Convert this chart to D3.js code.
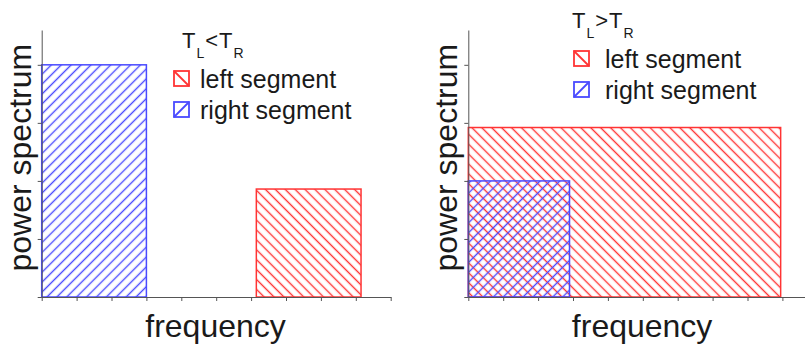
<!DOCTYPE html>
<html><head><meta charset="utf-8">
<script src="https://cdn.jsdelivr.net/npm/d3@7"></script>
<style>body{margin:0;background:#fff}svg{display:block}text{font-family:"Liberation Sans",Arial,sans-serif;fill:#1a1a1a}</style>
</head><body>
<script>
// ---- data ----
const xTicks = [0,1,2,3,4,5,6,7,8,9,10];
const yTicks = [0,1,2,3,4];
// panel 1: T_L < T_R
const p1Series = ["right segment","left segment"];
const p1Start  = [0, 6.15];
const p1End    = [3, 9.15];
const p1Value  = [4.0, 1.86];
// panel 2: T_L > T_R
const p2Series = ["left segment","right segment"];
const p2Start  = [0, 0];
const p2End    = [8.95, 2.9];
const p2Value  = [2.92, 2.0];
const legendLabels = ["left segment","right segment"];
const titles = [["T","L","<","T","R"],["T","L",">","T","R"]];

const W=805,H=344;
const red="#ff3434", blue="#4a4aff", axisCol="#555";
const svg=d3.select("body").append("svg").attr("width",W).attr("height",H);
const defs=svg.append("defs");
function hatch(id,color,angle){
  const p=defs.append("pattern").attr("id",id).attr("patternUnits","userSpaceOnUse")
    .attr("width",7).attr("height",7).attr("patternTransform",`rotate(${angle})`);
  p.append("line").attr("x1",3.5).attr("y1",0).attr("x2",3.5).attr("y2",7)
    .attr("stroke",color).attr("stroke-width",1.4);
}
hatch("hRed",red,-45);   // "\" lines
hatch("hBlue",blue,45);  // "/" lines
const colorOf={"left segment":red,"right segment":blue};
const patOf={"left segment":"url(#hRed)","right segment":"url(#hBlue)"};

const x=d3.scaleLinear().domain([0,10]).range([0,349]);
const y=d3.scaleLinear().domain([0,4.6]).range([267,0]);

function panel(ox, series, s, e, v, title, legX, legY, swX, txtX){
  const g=svg.append("g").attr("transform",`translate(${ox},30)`);
  const bars=series.map((k,i)=>({k,s:s[i],e:e[i],v:v[i]}));
  g.selectAll("rect.bar").data(bars).join("rect").attr("class","bar")
    .attr("x",d=>x(d.s)).attr("width",d=>x(d.e)-x(d.s))
    .attr("y",d=>y(d.v)).attr("height",d=>y(0)-y(d.v))
    .attr("fill",d=>patOf[d.k]).attr("stroke",d=>colorOf[d.k]).attr("stroke-width",1.5);
  const xa=g.append("g").attr("transform",`translate(0,${y(0)})`)
    .call(d3.axisBottom(x).tickValues(xTicks).tickSize(4).tickSizeOuter(0).tickFormat(""));
  const ya=g.append("g")
    .call(d3.axisLeft(y).tickValues(yTicks).tickSize(4).tickSizeOuter(0).tickFormat(""));
  [xa,ya].forEach(a=>{a.selectAll("path,line").attr("stroke",axisCol).attr("stroke-width",1);});
  // axis titles
  svg.append("text").attr("transform",`translate(${ox-11},${30+y(2.4)}) rotate(-90)`)
    .attr("text-anchor","middle").attr("font-size",32).text("power spectrum");
  svg.append("text").attr("x",ox+x(4.98)).attr("y",337).attr("text-anchor","middle")
    .attr("font-size",32).text("frequency");
  // legend title
  const t=svg.append("text").attr("x",legX).attr("y",legY).attr("font-size",22);
  t.append("tspan").text(title[0]);
  t.append("tspan").attr("dy",10).attr("dx",1).attr("font-size",14).text(title[1]);
  t.append("tspan").attr("dy",-10).attr("dx",1).text(title[2]);
  t.append("tspan").attr("dx",1).text(title[3]);
  t.append("tspan").attr("dy",10).attr("dx",1).attr("font-size",14).text(title[4]);
  // legend rows
  legendLabels.forEach((lab,i)=>{
    const ry=legY+23+i*31;
    const c=colorOf[lab];
    svg.append("rect").attr("x",swX).attr("y",ry).attr("width",15).attr("height",15)
      .attr("fill","none").attr("stroke",c).attr("stroke-width",1.8);
    if(lab==="left segment") svg.append("line").attr("x1",swX).attr("y1",ry).attr("x2",swX+15).attr("y2",ry+15).attr("stroke",c).attr("stroke-width",1.8);
    else svg.append("line").attr("x1",swX).attr("y1",ry+15).attr("x2",swX+15).attr("y2",ry).attr("stroke",c).attr("stroke-width",1.8);
    svg.append("text").attr("x",txtX).attr("y",ry+17).attr("font-size",25).text(lab);
  });
}
panel(41.7, p1Series, p1Start, p1End, p1Value, titles[0], 182, 48, 174, 200);
panel(468.3, p2Series, p2Start, p2End, p2Value, titles[1], 572, 28, 574, 605);
</script>
</body></html>
